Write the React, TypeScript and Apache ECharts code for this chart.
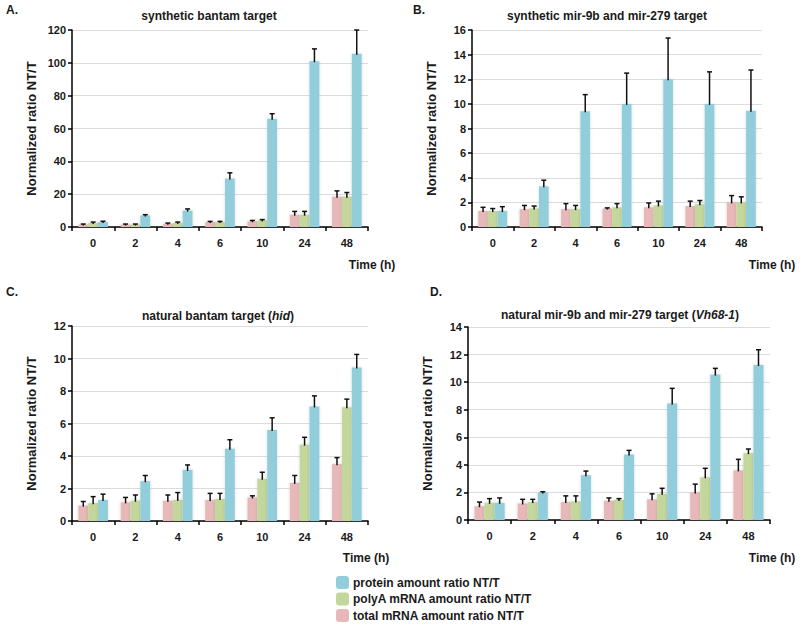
import React, { useEffect, useRef } from "react";
import * as echarts from "echarts";

const categories = ["0", "2", "4", "6", "10", "24", "48"];
const seriesNames = [
  "total mRNA amount ratio NT/T",
  "polyA mRNA amount ratio NT/T",
  "protein amount ratio NT/T",
];
const colors = ["#E6B9B8", "#C3D69B", "#92CDDC"];

// Panel A: synthetic bantam target
const aTotal = [1.5, 1.5, 2, 3, 3.5, 7.5, 18.5];
const aTotalErr = [0.3, 0.3, 0.4, 0.4, 0.5, 2, 3.5];
const aPolyA = [2.5, 1.5, 2.5, 3, 4, 7.5, 18.5];
const aPolyAErr = [0.5, 0.3, 0.5, 0.4, 0.5, 2, 2.5];
const aProtein = [3, 7, 10, 29.5, 66, 101, 105.5];
const aProteinErr = [0.5, 0.5, 1, 3.5, 3, 7.5, 14.5];

// Panel B: synthetic mir-9b and mir-279 target
const bTotal = [1.3, 1.45, 1.45, 1.5, 1.6, 1.7, 2.0];
const bTotalErr = [0.3, 0.3, 0.45, 0.05, 0.35, 0.4, 0.55];
const bPolyA = [1.3, 1.5, 1.45, 1.6, 1.75, 1.85, 2.0];
const bPolyAErr = [0.2, 0.2, 0.3, 0.3, 0.35, 0.3, 0.45];
const bProtein = [1.3, 3.3, 9.4, 10, 12, 10, 9.45];
const bProteinErr = [0.35, 0.5, 1.35, 2.5, 3.35, 2.6, 3.3];

// Panel C: natural bantam target (hid)
const cTotal = [0.95, 1.15, 1.25, 1.3, 1.45, 2.35, 3.5];
const cTotalErr = [0.25, 0.3, 0.35, 0.4, 0.1, 0.45, 0.4];
const cPolyA = [1.1, 1.25, 1.3, 1.35, 2.6, 4.7, 7.0];
const cPolyAErr = [0.4, 0.35, 0.45, 0.35, 0.4, 0.45, 0.5];
const cProtein = [1.3, 2.45, 3.15, 4.45, 5.6, 7.05, 9.45];
const cProteinErr = [0.35, 0.35, 0.3, 0.55, 0.75, 0.65, 0.8];

// Panel D: natural mir-9b and mir-279 target (Vh68-1)
const dTotal = [1.0, 1.2, 1.3, 1.4, 1.5, 2.0, 3.6];
const dTotalErr = [0.3, 0.3, 0.45, 0.2, 0.4, 0.6, 0.8];
const dPolyA = [1.25, 1.3, 1.35, 1.45, 1.9, 3.1, 4.85];
const dPolyAErr = [0.3, 0.2, 0.4, 0.1, 0.4, 0.65, 0.3];
const dProtein = [1.25, 2.0, 3.25, 4.75, 8.45, 10.55, 11.25];
const dProteinErr = [0.35, 0.05, 0.3, 0.3, 1.1, 0.45, 1.1];

const panelTitles = [
  "synthetic bantam target",
  "synthetic mir-9b and mir-279 target",
  "natural bantam target ({i|hid})",
  "natural mir-9b and mir-279 target ({i|Vh68-1})",
];
const panelLetters = ["A.", "B.", "C.", "D."];
const yMax = [120, 16, 12, 14];
const yInterval = [20, 2, 2, 2];

const FONT = "Liberation Sans, Arial, sans-serif";
const TXT = "#1a1a1a";
const GAP = 0.3;

export default function App() {
  const ref = useRef<HTMLDivElement>(null);
  useEffect(() => {
    if (!ref.current) return;
    const chart = echarts.init(ref.current, undefined, { renderer: "svg" });

    const panels = [
      { vals: [aTotal, aPolyA, aProtein], errs: [aTotalErr, aPolyAErr, aProteinErr] },
      { vals: [bTotal, bPolyA, bProtein], errs: [bTotalErr, bPolyAErr, bProteinErr] },
      { vals: [cTotal, cPolyA, cProtein], errs: [cTotalErr, cPolyAErr, cProteinErr] },
      { vals: [dTotal, dPolyA, dProtein], errs: [dTotalErr, dPolyAErr, dProteinErr] },
    ];

    const grids = [
      { left: 72, right: 432, top: 30, bottom: 400 },
      { left: 472, right: 38, top: 30, bottom: 400 },
      { left: 72, right: 432, top: 326, bottom: 106 },
      { left: 468, right: 30, top: 327, bottom: 107 },
    ];

    const xAxes = grids.map((_, i) => ({
      type: "category",
      gridIndex: i,
      data: categories,
      axisLine: { lineStyle: { color: "#000", width: 1.5 } },
      axisTick: { show: true, length: 4, lineStyle: { color: "#000", width: 1.5 } },
      axisLabel: { color: TXT, fontFamily: FONT, fontWeight: "bold", fontSize: 11, margin: 10 },
    }));

    const yAxes = grids.map((_, i) => ({
      type: "value",
      gridIndex: i,
      min: 0,
      max: yMax[i],
      interval: yInterval[i],
      name: "Normalized ratio NT/T",
      nameLocation: "middle",
      nameGap: 34,
      nameTextStyle: { color: TXT, fontFamily: FONT, fontWeight: "bold", fontSize: 13 },
      axisLine: { show: true, lineStyle: { color: "#000", width: 1.5 } },
      axisTick: { show: true, length: 4, lineStyle: { color: "#000", width: 1.5 } },
      axisLabel: { color: TXT, fontFamily: FONT, fontWeight: "bold", fontSize: 11, margin: 6 },
      splitLine: { show: true, lineStyle: { color: "#dcdcdc", width: 1 } },
    }));

    const series: any[] = [];
    panels.forEach((p, gi) => {
      p.vals.forEach((v, si) => {
        series.push({
          type: "bar",
          name: seriesNames[si],
          xAxisIndex: gi,
          yAxisIndex: gi,
          data: v,
          barGap: "0%",
          barCategoryGap: GAP * 100 + "%",
          itemStyle: {
            color: colors[si],
            shadowBlur: 3,
            shadowColor: "rgba(0,0,0,0.15)",
          },
        });
      });
      const errData: number[][] = [];
      p.vals.forEach((v, si) => {
        v.forEach((val, ci) => {
          errData.push([ci, val, si, p.errs[si][ci]]);
        });
      });
      series.push({
        type: "custom",
        xAxisIndex: gi,
        yAxisIndex: gi,
        data: errData,
        encode: { x: 0, y: 1 },
        z: 5,
        renderItem: (params: any, api: any) => {
          const ci = api.value(0);
          const val = api.value(1);
          const si = api.value(2);
          const e = api.value(3);
          const band = api.size([1, 0])[0];
          const bw = (band * (1 - GAP)) / 3;
          const base = api.coord([ci, val]);
          const x = base[0] + (si - 1) * bw;
          const yTop = api.coord([ci, val + e])[1];
          const yBot = base[1] + 1;
          const st = { stroke: "#111", lineWidth: 1.5 };
          return {
            type: "group",
            children: [
              { type: "line", shape: { x1: x, y1: yBot, x2: x, y2: yTop }, style: st },
              { type: "line", shape: { x1: x - 2.5, y1: yTop, x2: x + 2.5, y2: yTop }, style: st },
            ],
          };
        },
      });
    });

    const titleCenters = [
      [204, 5],
      [602, 5],
      [213, 305],
      [615, 304],
    ];
    const titles = panelTitles.map((t, i) => ({
      text: t,
      left: titleCenters[i][0],
      top: titleCenters[i][1],
      textAlign: "center",
      textStyle: {
        color: TXT,
        fontFamily: FONT,
        fontWeight: "bold",
        fontSize: 12,
        rich: {
          i: { fontStyle: "italic", fontWeight: "bold", fontFamily: FONT, fontSize: 12, color: TXT },
        },
      },
    }));

    const letterPos = [
      [6, 4],
      [413, 4],
      [6, 286],
      [430, 286],
    ];
    const timePos = [
      [372, 265],
      [772, 265],
      [366, 558],
      [772, 558],
    ];
    const graphics: any[] = [];
    panelLetters.forEach((l, i) => {
      graphics.push({
        type: "text",
        left: letterPos[i][0],
        top: letterPos[i][1],
        style: { text: l, fill: TXT, font: `bold 12px ${FONT}` },
      });
    });
    timePos.forEach((p) => {
      graphics.push({
        type: "text",
        x: p[0],
        y: p[1],
        style: {
          text: "Time (h)",
          fill: TXT,
          font: `bold 12px ${FONT}`,
          textAlign: "center",
          textVerticalAlign: "middle",
        },
      });
    });

    chart.setOption({
      animation: false,
      backgroundColor: "#fff",
      title: titles,
      grid: grids,
      xAxis: xAxes,
      yAxis: yAxes,
      legend: {
        orient: "vertical",
        left: 336,
        top: 576,
        padding: 0,
        itemWidth: 13,
        itemHeight: 13,
        itemGap: 3.5,
        selectedMode: false,
        data: [seriesNames[2], seriesNames[1], seriesNames[0]],
        textStyle: { color: TXT, fontFamily: FONT, fontWeight: "bold", fontSize: 12, padding: [0, 0, 0, -1] },
        itemStyle: { shadowBlur: 0 },
      },
      graphic: graphics,
      series,
    });
    return () => chart.dispose();
  }, []);
  return (
    <div
      ref={ref}
      style={{ position: "fixed", left: 0, top: 0, width: 800, height: 627 }}
    />
  );
}
